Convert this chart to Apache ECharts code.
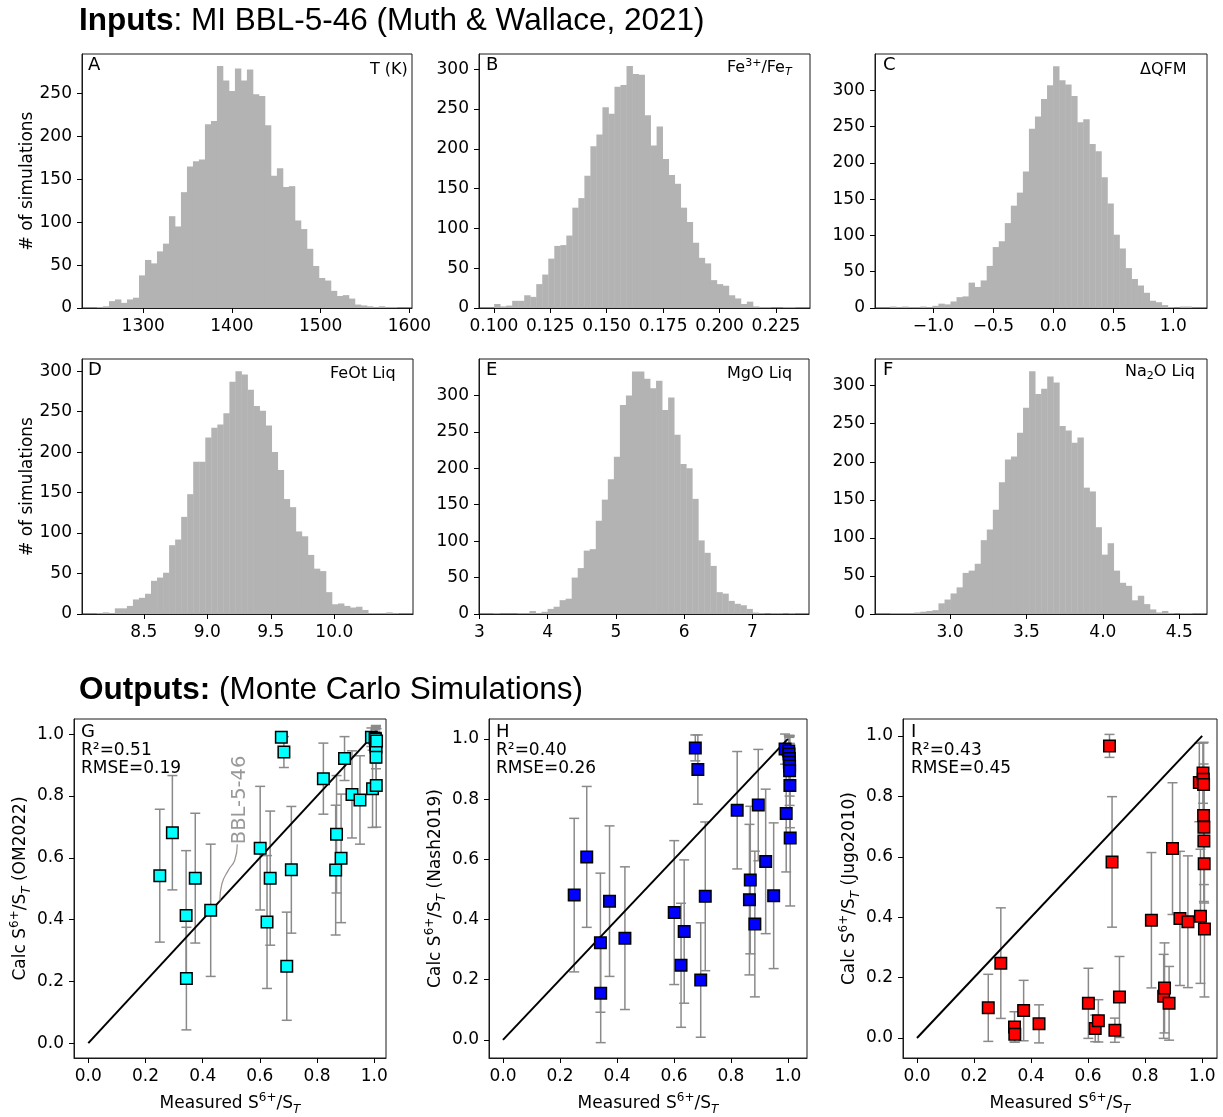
<!DOCTYPE html>
<html>
<head>
<meta charset="utf-8">
<script src="https://cdn.jsdelivr.net/npm/echarts@6/dist/echarts.min.js"></script>
<style>
html,body{margin:0;padding:0;background:#fff;}
#chart{width:1223px;height:1117px;}
</style>
</head>
<body>
<div id="chart"></div>
<script>
// ---------------- DATA ----------------
// Histograms: bin start, bin width, counts (50 bins each)
const binStartA = 1247.9, binWidthA = 6.76;
const countsA = [1,2,8,10,6,10,12,38,56,52,66,75,107,95,135,165,171,173,214,218,282,265,253,279,265,278,249,247,213,154,163,141,142,102,92,69,49,35,32,20,14,15,11,4,3,2,1,2,1,1];
const binStartB = 0.1001, binWidthB = 0.002667;
const countsB = [5,2,3,9,9,16,14,30,42,62,78,79,91,126,138,166,203,218,252,244,278,280,304,294,293,242,204,228,187,167,156,126,108,82,63,56,35,30,28,16,12,5,8,2,1,1,0,0,1,1];
const binStartC = -1.360, binWidthC = 0.0503;
const countsC = [2,1,2,1,1,2,1,3,6,5,9,15,16,35,29,38,58,84,92,117,141,159,188,247,264,288,307,333,314,308,292,256,260,226,216,180,144,101,82,55,40,31,21,10,8,4,1,0,2,2];
const binStartD = 8.129, binWidthD = 0.0475;
const countsD = [1,2,1,7,7,10,18,20,25,41,45,51,85,92,120,148,188,188,218,230,234,248,287,300,296,277,257,251,233,200,178,142,132,102,96,73,56,53,27,12,13,10,8,9,5,1,1,1,2,1];
const binStartE = 3.205, binWidthE = 0.0883;
const countsE = [1,0,0,0,1,1,4,1,3,7,10,19,21,50,63,87,89,128,157,185,216,287,300,333,333,323,310,320,280,297,246,206,200,158,101,84,66,30,28,18,14,12,7,2,1,0,1,1,0,1];
const binStartF = 2.609, binWidthF = 0.0395;
const countsF = [1,1,1,1,2,3,4,5,14,19,27,35,54,57,66,97,111,137,173,203,207,238,271,319,289,296,312,304,247,241,225,232,166,161,114,78,93,57,41,37,18,24,13,6,2,4,1,0,1,1];

// Tick labels
const ticksA = [1300,1400,1500,1600];
const ticksB = [0.100,0.125,0.150,0.175,0.200,0.225];
const ticksC = [-1.0,-0.5,0.0,0.5,1.0];
const ticksD = [8.5,9.0,9.5,10.0];
const ticksE = [3,4,5,6,7];
const ticksF = [3.0,3.5,4.0,4.5];
const ticksCountA = [0,50,100,150,200,250];
const ticksCount = [0,50,100,150,200,250,300];
const ticksS = [0.0,0.2,0.4,0.6,0.8,1.0];

// Scatter: measured vs calculated, with 1-sigma errors
const measured = [0.250,0.294,0.342,0.343,0.374,0.428,0.601,0.625,0.636,0.675,0.684,0.694,0.710,0.822,0.865,0.868,0.884,0.896,0.922,0.950,0.990,0.994,1.003,1.004,1.005,1.005,1.006,1.006,1.007,1.008];
const calcOM = [0.542,0.681,0.413,0.209,0.534,0.430,0.631,0.392,0.534,0.990,0.942,0.249,0.561,0.856,0.560,0.676,0.598,0.921,0.805,0.787,0.990,0.823,0.987,0.984,0.971,0.966,0.958,0.925,0.834,0.978];
const errOM = [0.215,0.185,0.21,0.166,0.21,0.214,0.20,0.215,0.217,0.01,0.05,0.175,0.205,0.115,0.21,0.19,0.208,0.071,0.141,0.143,0.03,0.125,0.02,0.03,0.05,0.06,0.07,0.10,0.135,0.04];
const calcNash = [0.481,0.608,0.323,0.155,0.461,0.338,0.423,0.248,0.360,0.970,0.898,0.199,0.477,0.763,0.466,0.531,0.385,0.780,0.593,0.479,0.966,0.752,0.960,0.950,0.935,0.922,0.910,0.894,0.845,0.671];
const errNash = [0.255,0.234,0.231,0.164,0.25,0.237,0.239,0.206,0.238,0.043,0.115,0.19,0.247,0.195,0.25,0.245,0.242,0.185,0.24,0.242,0.05,0.194,0.05,0.06,0.07,0.09,0.1,0.115,0.14,0.226];
const calcJugo = [0.100,0.248,0.037,0.013,0.091,0.047,0.115,0.032,0.057,0.967,0.583,0.026,0.136,0.390,0.138,0.166,0.115,0.627,0.396,0.385,0.846,0.403,0.877,0.857,0.839,0.737,0.698,0.652,0.577,0.361];
const errJugo = [0.111,0.183,0.05,0.027,0.1,0.063,0.116,0.044,0.07,0.038,0.216,0.04,0.134,0.224,0.139,0.149,0.122,0.218,0.222,0.218,0.13,0.222,0.1,0.12,0.14,0.17,0.19,0.2,0.13,0.225];
const oneToOne = [[0,0],[1,1]];
const annotationPoint = [0.530, 0.644];
const annotationPath = [[0.460,0.462],[0.467,0.515],[0.490,0.560],[0.512,0.592],[0.521,0.644]];

// ---------------- CHART ----------------
const FONT = 'DejaVu Sans';
const chart = echarts.init(document.getElementById('chart'), null, {renderer:'canvas'});

const grids = [
  {left:82, top:54, width:330, height:254},
  {left:479, top:54, width:331, height:254},
  {left:875, top:54, width:332, height:254},
  {left:82, top:359, width:331, height:255},
  {left:479, top:359, width:330, height:255},
  {left:875, top:359, width:332, height:255},
  {left:74, top:719, width:312, height:341},
  {left:489, top:719, width:318, height:341},
  {left:903, top:719, width:314, height:341}
].map(g => Object.assign(g, {show:true, borderColor:'#1a1a1a', borderWidth:1, backgroundColor:'transparent', containLabel:false}));

const richName = {
  n:{fontSize:17, fontFamily:FONT, color:'#000', lineHeight:24},
  sup:{fontSize:12, fontFamily:FONT, color:'#000', verticalAlign:'top', lineHeight:12},
  sub:{fontSize:12, fontFamily:FONT, color:'#000', fontStyle:'italic', verticalAlign:'bottom', lineHeight:12}
};

function axis(gi, min, max, ticks, fmt, name, nameGap) {
  return {
    type:'value', gridIndex:gi, min:min, max:max,
    axisLine:{show:true, onZero:false, lineStyle:{color:'#1a1a1a', width:1}},
    axisTick:{show:true, inside:false, length:5, lineStyle:{color:'#000', width:1}, customValues:ticks},
    axisLabel:{customValues:ticks, formatter:fmt, fontSize:17, fontFamily:FONT, color:'#000', margin:10},
    splitLine:{show:false},
    name:name || '', nameLocation:'middle', nameGap:nameGap || 40,
    nameTextStyle:{fontSize:17, fontFamily:FONT, color:'#000', rich:richName}
  };
}
const fInt = v => String(Math.round(v));
const f1 = v => v.toFixed(1).replace('-', '\u2212');
const f3 = v => v.toFixed(3);

const xName = '{n|Measured S}{sup|6+}{n|/S}{sub|T}';
const xAxes = [
  axis(0, 1231, 1603, ticksA, fInt),
  axis(1, 0.0934, 0.2401, ticksB, f3),
  axis(2, -1.486, 1.281, ticksC, f1),
  axis(3, 8.013, 10.62, ticksD, f1),
  axis(4, 2.995, 7.83, ticksE, fInt),
  axis(5, 2.51, 4.681, ticksF, f1),
  axis(6, -0.05, 1.041, ticksS, f1, xName, 34),
  axis(7, -0.049, 1.067, ticksS, f1, xName, 34),
  axis(8, -0.049, 1.052, ticksS, f1, xName, 34)
];
const yAxes = [
  axis(0, 0, 296, ticksCountA, fInt, '# of simulations', 46),
  axis(1, 0, 319, ticksCount, fInt),
  axis(2, 0, 350, ticksCount, fInt),
  axis(3, 0, 315, ticksCount, fInt, '# of simulations', 46),
  axis(4, 0, 350, ticksCount, fInt),
  axis(5, 0, 335, ticksCount, fInt),
  axis(6, -0.048, 1.049, ticksS, f1, '{n|Calc S}{sup|6+}{n|/S}{sub|T}{n| (OM2022)}', 40),
  axis(7, -0.060, 1.066, ticksS, f1, '{n|Calc S}{sup|6+}{n|/S}{sub|T}{n| (Nash2019)}', 40),
  axis(8, -0.066, 1.056, ticksS, f1, '{n|Calc S}{sup|6+}{n|/S}{sub|T}{n| (Jugo2010)}', 40)
];

function histSeries(gi, start, width, counts) {
  return {
    type:'custom', xAxisIndex:gi, yAxisIndex:gi, coordinateSystem:'cartesian2d',
    data: counts.map((c, i) => [start + i*width, start + (i+1)*width, c]),
    encode:{x:[0,1], y:2},
    renderItem:function(params, api){
      const p0 = api.coord([api.value(0), api.value(2)]);
      const p1 = api.coord([api.value(1), 0]);
      return {type:'rect', shape:{x:p0[0], y:p0[1], width:p1[0]-p0[0]+0.4, height:p1[1]-p0[1]}, style:{fill:'#b3b3b3'}};
    },
    silent:true, z:2
  };
}

function errSeries(gi, xs, ys, es) {
  return {
    type:'custom', xAxisIndex:gi, yAxisIndex:gi, coordinateSystem:'cartesian2d',
    data: xs.map((x, i) => [x, ys[i], es[i]]),
    encode:{x:0, y:1},
    renderItem:function(params, api){
      const x = api.value(0), y = api.value(1), e = api.value(2);
      const t = api.coord([x, y+e]), b = api.coord([x, y-e]);
      const st = {stroke:'#8a8a8a', lineWidth:1.5};
      return {type:'group', children:[
        {type:'line', shape:{x1:t[0], y1:t[1], x2:b[0], y2:b[1]}, style:st},
        {type:'line', shape:{x1:t[0]-5, y1:t[1], x2:t[0]+5, y2:t[1]}, style:st},
        {type:'line', shape:{x1:b[0]-5, y1:b[1], x2:b[0]+5, y2:b[1]}, style:st}
      ]};
    },
    silent:true, z:2
  };
}

function lineSeries(gi) {
  return {type:'line', xAxisIndex:gi, yAxisIndex:gi, data:oneToOne, symbol:'none',
    lineStyle:{color:'#000', width:2}, silent:true, z:3, animation:false};
}
function scatterSeries(gi, xs, ys, color) {
  return {type:'scatter', xAxisIndex:gi, yAxisIndex:gi, data:xs.map((x,i)=>[x, ys[i]]),
    symbol:'rect', symbolSize:11.5, itemStyle:{color:color, borderColor:'#000', borderWidth:1.5, opacity:1},
    silent:true, z:5};
}

const series = [
  histSeries(0, binStartA, binWidthA, countsA),
  histSeries(1, binStartB, binWidthB, countsB),
  histSeries(2, binStartC, binWidthC, countsC),
  histSeries(3, binStartD, binWidthD, countsD),
  histSeries(4, binStartE, binWidthE, countsE),
  histSeries(5, binStartF, binWidthF, countsF),
  errSeries(6, measured, calcOM, errOM),
  lineSeries(6),
  scatterSeries(6, measured, calcOM, '#00ffff'),
  errSeries(7, measured, calcNash, errNash),
  lineSeries(7),
  scatterSeries(7, measured, calcNash, '#0000ff'),
  errSeries(8, measured, calcJugo, errJugo),
  lineSeries(8),
  scatterSeries(8, measured, calcJugo, '#ff0000'),
  // annotation connector + label in panel G
  {type:'line', xAxisIndex:6, yAxisIndex:6, data:annotationPath, smooth:0.5, symbol:'none',
    lineStyle:{color:'#9c9090', width:1.2}, silent:true, z:4},
  {type:'scatter', xAxisIndex:6, yAxisIndex:6, data:[annotationPoint], symbolSize:0, silent:true, z:4,
    label:{show:true, formatter:'BBL-5-46', position:'inside', rotate:90, align:'left', verticalAlign:'middle',
      fontSize:19.5, fontFamily:FONT, color:'#808080'}}
];

const richLab = {
  n:{fontSize:16, fontFamily:FONT, color:'#000', fontWeight:'normal', lineHeight:20},
  sup:{fontSize:11, fontFamily:FONT, color:'#000', fontWeight:'normal', verticalAlign:'top', lineHeight:10},
  sub:{fontSize:11, fontFamily:FONT, color:'#000', fontWeight:'normal', verticalAlign:'bottom', lineHeight:10},
  subi:{fontSize:11, fontFamily:FONT, color:'#000', fontWeight:'normal', fontStyle:'italic', verticalAlign:'bottom', lineHeight:10}
};
function t(text, left, top, size, lh) {
  return {
    text:text, left:left, top:top, padding:0, itemGap:0,
    textStyle:{fontSize:size, fontFamily:FONT, color:'#000', fontWeight:'normal', lineHeight:lh || Math.round(size*1.1), rich:richLab}
  };
}
const titleRich = {
  b:{fontSize:31.5, fontWeight:'bold', fontFamily:'Liberation Sans', color:'#000'},
  r:{fontSize:31.5, fontWeight:'normal', fontFamily:'Liberation Sans', color:'#000'}
};

const titles = [
  {text:'{b|Inputs}{r|: MI BBL-5-46 (Muth & Wallace, 2021)}', left:79, top:5, padding:0,
    textStyle:{fontWeight:'normal', fontSize:31.5, rich:titleRich}},
  {text:'{b|Outputs:}{r| (Monte Carlo Simulations)}', left:79, top:674, padding:0,
    textStyle:{fontWeight:'normal', fontSize:31.5, rich:titleRich}},
  t('A', 88, 55, 18), t('B', 486, 55, 18), t('C', 883, 55, 18),
  t('D', 88, 360, 18), t('E', 486, 360, 18), t('F', 883, 360, 18),
  t('T (K)', 370, 61, 16),
  t('{n|Fe}{sup|3+}{n|/Fe}{subi|T}', 727, 58, 16),
  t('\u0394QFM', 1140, 61, 16),
  t('FeOt Liq', 330, 365, 16),
  t('MgO Liq', 727, 365, 16),
  t('{n|Na}{sub|2}{n|O Liq}', 1125, 362, 16),
  t('G', 81, 722, 18), t('H', 496, 722, 18), t('I', 911, 722, 18),
  t('R\u00b2=0.51\nRMSE=0.19', 81, 742, 17, 18),
  t('R\u00b2=0.40\nRMSE=0.26', 496, 742, 17, 18),
  t('R\u00b2=0.43\nRMSE=0.45', 911, 742, 17, 18)
];

chart.setOption({
  animation:false,
  backgroundColor:'#fff',
  title:titles,
  grid:grids,
  xAxis:xAxes,
  yAxis:yAxes,
  series:series
});
</script>
</body>
</html>
